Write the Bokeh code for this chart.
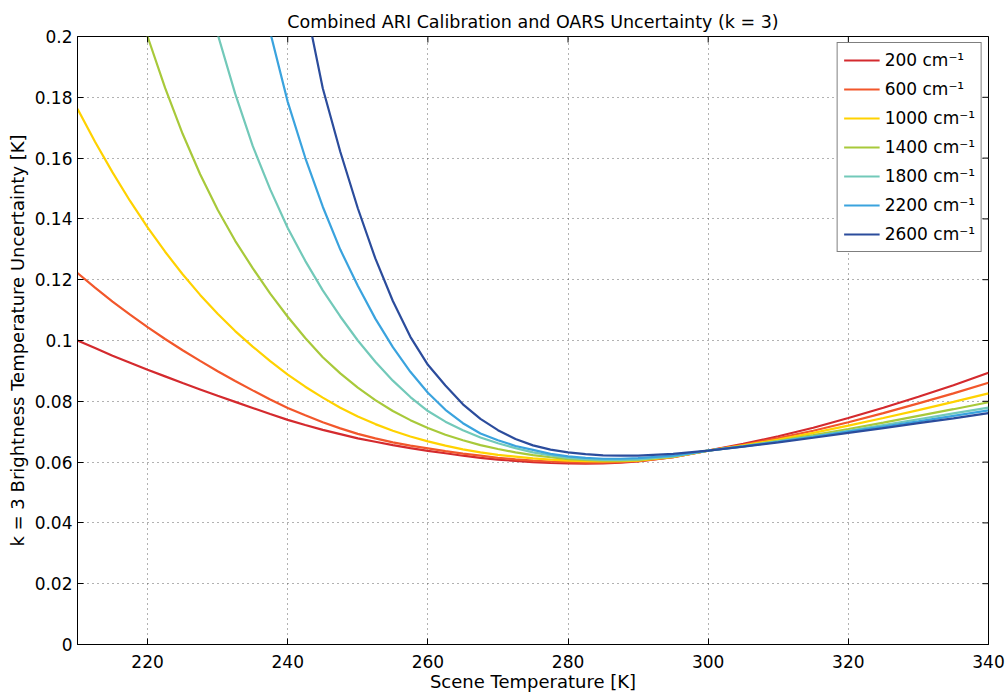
import math
from bokeh.plotting import figure
from bokeh.models import (FixedTicker, CustomJSTickFormatter, Legend, LegendItem, Range1d)
from bokeh.embed import file_html
from bokeh.resources import INLINE

nan = float("nan")

title_text = "Combined ARI Calibration and OARS Uncertainty (k = 3)"
x_label = "Scene Temperature [K]"
y_label = "k = 3 Brightness Temperature Uncertainty [K]"

temps = [210, 212.5, 215, 217.5, 220, 222.5, 225, 227.5, 230, 232.5, 235, 237.5,
         240, 242.5, 245, 247.5, 250, 252.5, 255, 257.5, 260, 262.5, 265, 267.5,
         270, 272.5, 275, 277.5, 280, 282.5, 285, 287.5, 290,
         295, 300, 305, 310, 315, 320, 325, 330, 335, 340]

labels = ["200 cm\u207b\u00b9", "600 cm\u207b\u00b9", "1000 cm\u207b\u00b9",
          "1400 cm\u207b\u00b9", "1800 cm\u207b\u00b9", "2200 cm\u207b\u00b9",
          "2600 cm\u207b\u00b9"]

u200 = [0.1000, 0.0975, 0.0950, 0.0927, 0.0904, 0.0882, 0.0860, 0.0839, 0.0818,
        0.0798, 0.0778, 0.0758, 0.0739, 0.0722, 0.0706, 0.0692, 0.0678, 0.0667,
        0.0656, 0.0646, 0.0637, 0.0629, 0.0621, 0.0614, 0.0608, 0.0604, 0.0600,
        0.0597, 0.0596, 0.0595, 0.0596, 0.0598, 0.0602,
        0.0616, 0.0638, 0.0660, 0.0685, 0.0713, 0.0745, 0.0779, 0.0815, 0.0853, 0.0894]
u600 = [0.1222, 0.1174, 0.1128, 0.1085, 0.1044, 0.1005, 0.0968, 0.0933, 0.0899,
        0.0867, 0.0836, 0.0806, 0.0778, 0.0754, 0.0731, 0.0711, 0.0693, 0.0678,
        0.0665, 0.0654, 0.0645, 0.0636, 0.0628, 0.0621, 0.0614, 0.0609, 0.0605,
        0.0602, 0.0600, 0.0598, 0.0598, 0.0600, 0.0603,
        0.0616, 0.0638, 0.0657, 0.0679, 0.0703, 0.0731, 0.0761, 0.0793, 0.0826, 0.0861]
u1000 = [0.1762, 0.1654, 0.1553, 0.1459, 0.1372, 0.1292, 0.1218, 0.1150, 0.1088,
         0.1031, 0.0980, 0.0932, 0.0888, 0.0848, 0.0812, 0.0779, 0.0750, 0.0725,
         0.0703, 0.0684, 0.0668, 0.0654, 0.0642, 0.0632, 0.0624, 0.0618, 0.0612,
         0.0608, 0.0605, 0.0603, 0.0602, 0.0603, 0.0605,
         0.0617, 0.0638, 0.0655, 0.0674, 0.0696, 0.0720, 0.0745, 0.0771, 0.0798, 0.0826]
u1400 = [nan, nan, 0.2400, 0.2190, 0.2000, 0.1831, 0.1680, 0.1547, 0.1430,
         0.1328, 0.1238, 0.1154, 0.1078, 0.1008, 0.0945, 0.0892, 0.0845, 0.0804,
         0.0768, 0.0738, 0.0712, 0.0690, 0.0672, 0.0656, 0.0643, 0.0632, 0.0623,
         0.0616, 0.0610, 0.0607, 0.0605, 0.0605, 0.0607,
         0.0618, 0.0638, 0.0653, 0.0670, 0.0689, 0.0709, 0.0730, 0.0752, 0.0774, 0.0797]
u1800 = [nan, nan, nan, nan, nan, nan, 0.2510, 0.2242, 0.2008,
         0.1812, 0.1640, 0.1497, 0.1370, 0.1262, 0.1165, 0.1079, 0.1000, 0.0930,
         0.0868, 0.0814, 0.0768, 0.0733, 0.0705, 0.0681, 0.0662, 0.0646, 0.0632,
         0.0622, 0.0614, 0.0610, 0.0607, 0.0607, 0.0609,
         0.0619, 0.0638, 0.0652, 0.0668, 0.0685, 0.0703, 0.0722, 0.0741, 0.0760, 0.0779]
u2200 = [nan, nan, nan, nan, nan, nan, nan, nan, nan,
         nan, 0.2280, 0.2014, 0.1785, 0.1601, 0.1440, 0.1299, 0.1180, 0.1072,
         0.0978, 0.0897, 0.0828, 0.0772, 0.0728, 0.0694, 0.0672, 0.0653, 0.0640,
         0.0627, 0.0619, 0.0614, 0.0611, 0.0611, 0.0613,
         0.0621, 0.0638, 0.0652, 0.0667, 0.0683, 0.0700, 0.0717, 0.0734, 0.0752, 0.0770]
u2600 = [nan, nan, nan, nan, nan, nan, nan, nan, nan,
         nan, nan, nan, 0.2450, 0.2112, 0.1830, 0.1621, 0.1435, 0.1270,
         0.1130, 0.1012, 0.0920, 0.0852, 0.0790, 0.0742, 0.0705, 0.0676, 0.0655,
         0.0641, 0.0632, 0.0626, 0.0622, 0.0621, 0.0621,
         0.0627, 0.0638, 0.0651, 0.0665, 0.0680, 0.0696, 0.0712, 0.0728, 0.0744, 0.0761]

series = [u200, u600, u1000, u1400, u1800, u2200, u2600]
colors = ["#d42a2e", "#f2572b", "#ffd200", "#a8c93a", "#72c9b9", "#3aa3de", "#2b4c9c"]

x_ticks = [220, 240, 260, 280, 300, 320, 340]
y_ticks = [0, 0.02, 0.04, 0.06, 0.08, 0.1, 0.12, 0.14, 0.16, 0.18, 0.2]
x_min, x_max = 210, 340
y_min, y_max = 0, 0.2

FONT = "DejaVu Sans"

p = figure(width=1006, height=694, output_backend="svg", toolbar_location=None,
           x_range=Range1d(x_min, x_max), y_range=Range1d(y_min, y_max),
           min_border_left=77, min_border_right=18, min_border_top=36,
           min_border_bottom=50, x_axis_label=x_label, y_axis_label=y_label)
p.title.text = title_text
p.title.align = "center"
p.title.text_font = FONT
p.title.text_font_size = "17.5px"
p.title.text_font_style = "normal"
p.title.text_color = "black"
p.background_fill_color = "white"
p.border_fill_color = "white"
p.outline_line_color = "black"
p.outline_line_width = 1

fmt = CustomJSTickFormatter(code="return String(parseFloat(tick.toFixed(4)));")

p.xaxis.ticker = FixedTicker(ticks=x_ticks)
p.yaxis.ticker = FixedTicker(ticks=y_ticks)
p.yaxis.formatter = fmt

for ax in p.xaxis + p.yaxis:
    ax.major_tick_in = 6
    ax.major_tick_out = 0
    ax.minor_tick_line_color = None
    ax.axis_line_color = "black"
    ax.major_tick_line_color = "black"
    ax.major_label_text_font = FONT
    ax.major_label_text_font_size = "17px"
    ax.major_label_text_color = "black"
    ax.axis_label_text_font = FONT
    ax.axis_label_text_font_size = "18px"
    ax.axis_label_text_font_style = "normal"
    ax.axis_label_text_color = "black"
    ax.major_label_standoff = 5
    ax.axis_label_standoff = 4
p.xaxis.major_label_standoff = 10
p.xaxis.axis_label_standoff = 0

p.xgrid.ticker = FixedTicker(ticks=x_ticks)
p.ygrid.ticker = FixedTicker(ticks=y_ticks)
for g in (p.xgrid, p.ygrid):
    g.grid_line_color = "#555555"
    g.grid_line_dash = "1 4"
    g.grid_line_alpha = 0.9
    g.grid_line_width = 1

items = []
for lab, ys, c in zip(labels, series, colors):
    assert len(ys) == len(temps)
    r = p.line(temps, ys, line_color=c, line_width=2.2)
    items.append(LegendItem(label=lab, renderers=[r]))

# mirrored (boxed) tick marks on top and right edges; clipped to the frame
p.scatter(x_ticks, [y_max] * len(x_ticks), marker="dash", angle=math.pi / 2,
          size=12, line_color="black", line_width=1)
p.scatter([x_max] * len(y_ticks), y_ticks, marker="dash",
          size=12, line_color="black", line_width=1)

legend = Legend(items=items, location="top_right")
legend.label_text_font = FONT
legend.label_text_font_size = "17px"
legend.label_text_color = "black"
legend.label_height = 22
legend.glyph_height = 22
legend.glyph_width = 36
legend.spacing = 7
legend.padding = 6
legend.margin = 6
legend.border_line_color = "black"
legend.border_line_width = 1
legend.background_fill_alpha = 1
p.add_layout(legend)

open("out.html", "w").write(file_html(p, INLINE))
